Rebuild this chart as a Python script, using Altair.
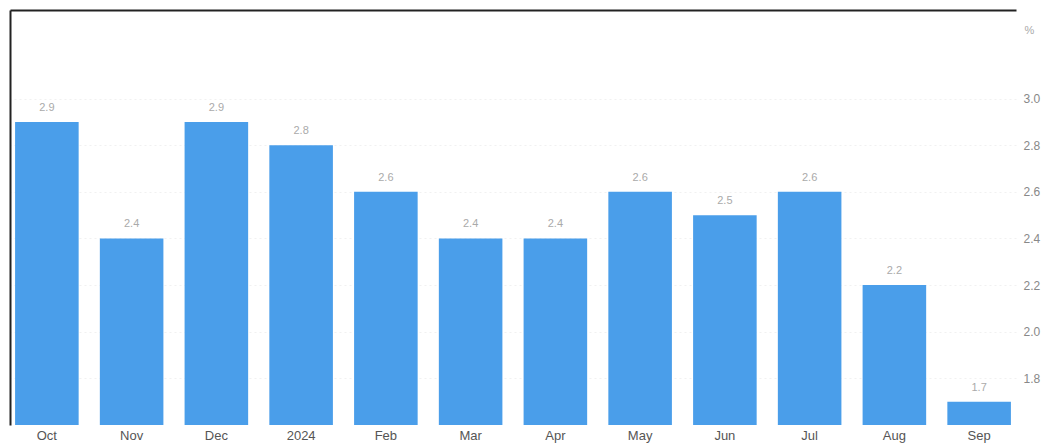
import altair as alt
import pandas as pd

months = ["Oct", "Nov", "Dec", "2024", "Feb", "Mar", "Apr", "May", "Jun", "Jul", "Aug", "Sep"]
values = [2.9, 2.4, 2.9, 2.8, 2.6, 2.4, 2.4, 2.6, 2.5, 2.6, 2.2, 1.7]
y_ticks = [1.8, 2.0, 2.2, 2.4, 2.6, 2.8, 3.0]
y_domain = [1.6, 3.38]

df = pd.DataFrame({"month": months, "value": values})

FONT = "Liberation Sans"

xscale = alt.Scale(type="band", domain=months, paddingInner=0.25, paddingOuter=0.06)
yscale = alt.Scale(domain=y_domain, nice=False, zero=False)

bars = alt.Chart(df).mark_bar(color="#4a9eea", clip=True).encode(
    x=alt.X("month:N", sort=months, scale=xscale,
            axis=alt.Axis(orient="bottom", title=None, labelAngle=0, ticks=False,
                          domain=False, grid=False, labelColor="#555", labelFontSize=13,
                          labelPadding=4, labelFont=FONT)),
    y=alt.Y("value:Q", scale=yscale,
            axis=alt.Axis(orient="right", values=y_ticks, format=".1f", title="%",
                          titleAngle=0, titleX=8, titleY=20, titleAlign="left",
                          titleBaseline="middle", titleColor="#aaa", titleFontSize=11,
                          titleFontWeight="normal", titleFont=FONT,
                          grid=True, gridColor="#f1f1f1", gridDash=[2, 3],
                          domain=False, ticks=False, labelPadding=7,
                          labelColor="#888", labelFontSize=12, labelFont=FONT)),
)

labels = alt.Chart(df).mark_text(baseline="bottom", dy=-9, color="#aaa",
                                 fontSize=11, font=FONT).encode(
    x=alt.X("month:N", sort=months, scale=xscale,
            axis=alt.Axis(orient="top", title=None, labels=False, ticks=False,
                          domain=True, domainColor="#222", domainWidth=2, grid=False)),
    y=alt.Y("value:Q", scale=yscale,
            axis=alt.Axis(orient="left", title=None, labels=False, ticks=False,
                          domain=True, domainColor="#222", domainWidth=2, grid=False)),
    text=alt.Text("value:Q", format=".1f"),
)

chart = (
    alt.layer(bars, labels)
    .resolve_scale(x="independent", y="independent")
    .properties(width=1006, height=415,
                autosize=alt.AutoSizeParams(type="none"),
                padding={"left": 2, "top": 2, "right": 27, "bottom": 20},
                background="white")
    .configure_view(stroke=None)
)

chart.save("out.html", embed_options={"renderer": "svg", "actions": False})
